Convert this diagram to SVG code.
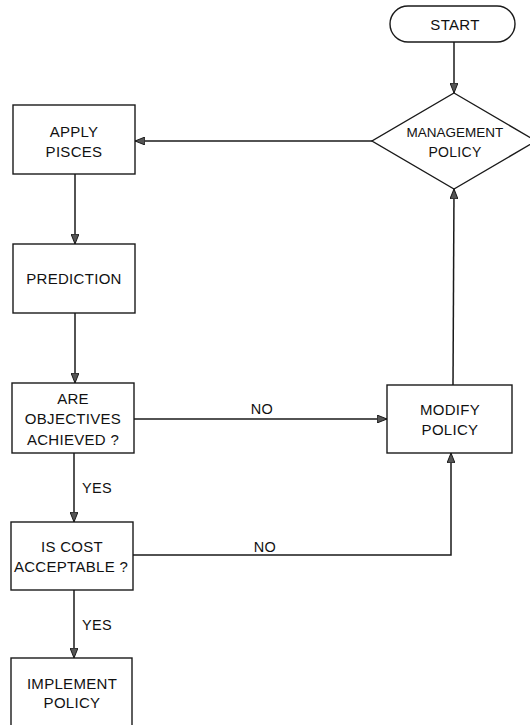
<svg xmlns="http://www.w3.org/2000/svg" width="530" height="725" viewBox="0 0 530 725">
<style>
.shape{fill:#fff;stroke:#1a1a1a;stroke-width:1.4}
.t{font-family:"Liberation Sans",Arial,sans-serif;font-size:15px;fill:#111;text-anchor:middle;letter-spacing:0.3px}
.lbl{font-family:"Liberation Sans",Arial,sans-serif;font-size:14.5px;fill:#111;letter-spacing:0.3px}
.c{fill:none;stroke:#1a1a1a;stroke-width:1.5}
</style>
<defs>
<marker id="ah" viewBox="0 0 10 8" refX="10" refY="4" markerWidth="10" markerHeight="8" markerUnits="userSpaceOnUse" orient="auto">
<path d="M0,0 L10,4 L0,8 Z" fill="#555" stroke="#1a1a1a" stroke-width="1"/>
</marker>
</defs>
<rect width="530" height="725" fill="#fff"/>
<g id="connectors">
<path class="c" d="M454,42 L454,93" marker-end="url(#ah)"/>
<path class="c" d="M372,141 L135,141" marker-end="url(#ah)"/>
<path class="c" d="M75,174 L75,244" marker-end="url(#ah)"/>
<path class="c" d="M75,313 L75,383" marker-end="url(#ah)"/>
<path class="c" d="M134,419 L387,419" marker-end="url(#ah)"/>
<path class="c" d="M74,453 L74,522" marker-end="url(#ah)"/>
<path class="c" d="M133,555 L451,555 L451,453" marker-end="url(#ah)"/>
<path class="c" d="M453,385 L454,189" marker-end="url(#ah)"/>
<path class="c" d="M74,590 L74,658" marker-end="url(#ah)"/>
<text class="lbl" x="82" y="493">YES</text>
<text class="lbl" x="82" y="630">YES</text>
<text class="lbl" x="262" y="414" text-anchor="middle">NO</text>
<text class="lbl" x="265" y="552" text-anchor="middle">NO</text>
</g>
<g id="start">
<rect class="shape" x="390" y="6" width="125" height="36" rx="18" ry="18"/>
<text class="t" x="455" y="30">START</text>
</g>
<g id="management-policy">
<polygon class="shape" points="454,93 536,141 454,189 372,141"/>
<text class="t" x="455" y="137" style="letter-spacing:0;font-size:13.5px">MANAGEMENT</text>
<text class="t" x="455" y="157" style="font-size:14px">POLICY</text>
</g>
<g id="apply-pisces">
<rect class="shape" x="13" y="105" width="122" height="69"/>
<text class="t" x="74" y="137">APPLY</text>
<text class="t" x="74" y="157">PISCES</text>
</g>
<g id="prediction">
<rect class="shape" x="13" y="244" width="122" height="69"/>
<text class="t" x="74" y="284">PREDICTION</text>
</g>
<g id="objectives">
<rect class="shape" x="12" y="383" width="122" height="70"/>
<text class="t" x="73" y="404">ARE</text>
<text class="t" x="73" y="424">OBJECTIVES</text>
<text class="t" x="73" y="445">ACHIEVED ?</text>
</g>
<g id="cost">
<rect class="shape" x="11" y="522" width="122" height="68"/>
<text class="t" x="72" y="552">IS COST</text>
<text class="t" x="71" y="572">ACCEPTABLE ?</text>
</g>
<g id="implement">
<rect class="shape" x="11" y="658" width="121" height="80"/>
<text class="t" x="72" y="689">IMPLEMENT</text>
<text class="t" x="72" y="708">POLICY</text>
</g>
<g id="modify">
<rect class="shape" x="387" y="385" width="125" height="68"/>
<text class="t" x="450" y="415">MODIFY</text>
<text class="t" x="450" y="435">POLICY</text>
</g>
</svg>
